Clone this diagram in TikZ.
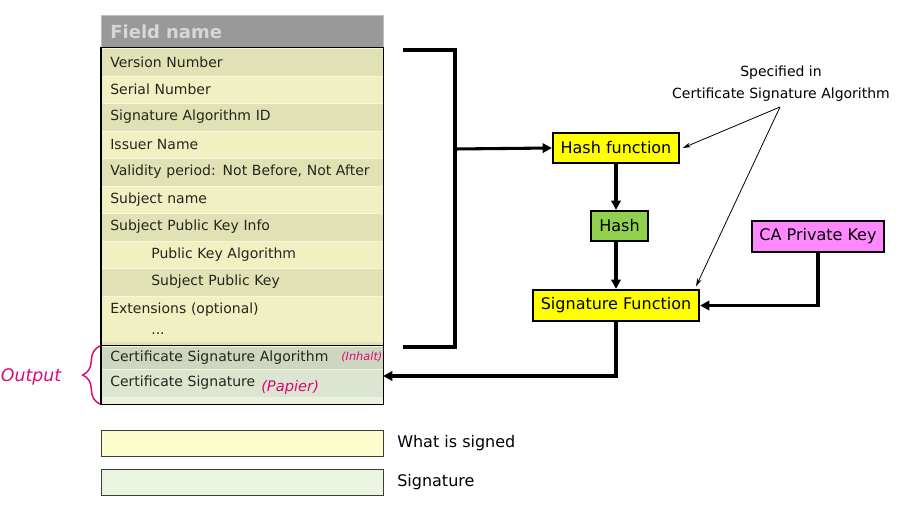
\documentclass[tikz,border=0pt]{standalone}
\usepackage{fontspec}
\setmainfont{DejaVu Sans}
\usetikzlibrary{arrows.meta,decorations.pathreplacing,calc}
\definecolor{rowD}{RGB}{224,225,180}
\definecolor{rowL}{RGB}{240,240,195}
\definecolor{rowLine}{RGB}{246,246,220}
\definecolor{sgA}{RGB}{205,215,192}
\definecolor{sgB}{RGB}{220,229,207}
\definecolor{sgC}{RGB}{234,242,222}
\definecolor{hdrFill}{RGB}{153,153,153}
\definecolor{hdrLine}{RGB}{190,190,190}
\definecolor{hdrText}{RGB}{215,215,215}
\definecolor{txt}{RGB}{38,38,28}
\definecolor{boxY}{RGB}{255,255,0}
\definecolor{boxG}{RGB}{146,208,80}
\definecolor{boxM}{RGB}{255,136,255}
\definecolor{legY}{RGB}{252,252,205}
\definecolor{legG}{RGB}{235,244,223}
\definecolor{hand}{RGB}{215,10,120}
\begin{document}
\begin{tikzpicture}[x=0.75pt,y=-0.75pt,
  row/.style={anchor=west, minimum width=211.5pt, text width=198pt, inner xsep=6.75pt, inner ysep=0pt,
    align=left, draw=rowLine, line width=0.5pt, font=\fontsize{10.5}{12}\selectfont, text=txt},
  fbox/.style={draw=black, line width=1.6pt, inner sep=0pt, font=\fontsize{12}{14}\selectfont},
  thickarrow/.style={line width=2.3pt, -{Triangle[length=7pt,width=7pt]}},
  thinarrow/.style={line width=0.6pt, -{Stealth[length=6pt,width=3.5pt]}},
  handtxt/.style={text=hand, inner sep=0pt},
  legbox/.style={draw={rgb,255:red,60;green,60;blue,60}, line width=0.8pt, minimum width=211.5pt, minimum height=19.5pt, inner sep=0pt},
  legtxt/.style={anchor=west, inner sep=0pt, font=\fontsize{12}{14}\selectfont}]
\useasboundingbox (0,0) rectangle (908,509);

% header
\node[row, fill=hdrFill, draw=hdrLine, minimum height=24.75pt, text=hdrText,
  font=\bfseries\fontsize{13.5}{15}\selectfont] (hdr) at (101,31.5) {Field name};

% rows
\node[row, fill=rowD, minimum height=21pt]    (r1)  at (101,62)    {Version Number};
\node[row, fill=rowL, minimum height=20.25pt] (r2)  at (101,89.5)  {Serial Number};
\node[row, fill=rowD, minimum height=21pt]    (r3)  at (101,117)   {Signature Algorithm ID};
\node[row, fill=rowL, minimum height=20.25pt] (r4)  at (101,144.5) {Issuer Name};
\node[row, fill=rowD, minimum height=21pt]    (r5)  at (101,172)   {Validity period: Not Before, Not After};
\node[row, fill=rowL, minimum height=20.25pt] (r6)  at (101,199.5) {Subject name};
\node[row, fill=rowD, minimum height=21pt]    (r7)  at (101,227)   {Subject Public Key Info};
\node[row, fill=rowL, minimum height=20.25pt] (r8)  at (101,254.5) {\hspace*{30.75pt}Public Key Algorithm};
\node[row, fill=rowD, minimum height=21pt]    (r9)  at (101,282)   {\hspace*{30.75pt}Subject Public Key};
\node[row, fill=rowL, minimum height=34.5pt]  (r10) at (101,319)   {Extensions (optional)\\[3.75pt]\hspace*{30.75pt}...};
\node[row, fill=rowD, minimum height=3pt, draw=none] (r10b) at (101,344) {};
\node[row, fill=sgA, minimum height=17.25pt]  (r11) at (101,357.5) {Certificate Signature Algorithm};
\node[row, fill=sgB, minimum height=21pt]     (r12) at (101,383)   {Certificate Signature};
\node[row, fill=sgC, minimum height=5.25pt, draw=none] (r13) at (101,400.5) {};
\draw[line width=1pt] (r1.north west) rectangle (r13.south east);
\draw[line width=1pt] (r11.north west) -- (r11.north east);

% bracket
\coordinate (bt) at (403,50);
\coordinate (bb) at (403,347);
\coordinate (bm) at (455,149);
\draw[line width=2.3pt] (bt) -- (455,50) -- (455,347) -- (bb);

% boxes
\node[fbox, fill=boxY, minimum width=94.5pt, minimum height=22.5pt] (hf) at (616,148) {Hash function};
\node[fbox, fill=boxG, minimum width=42.75pt, minimum height=22.5pt] (hs) at (619.5,226) {Hash};
\node[fbox, fill=boxM, minimum width=99pt, minimum height=23.25pt] (ca) at (818,236.5) {CA Private Key};
\node[fbox, fill=boxY, minimum width=124.5pt, minimum height=23.25pt] (sf) at (616,305.5) {Signature Function};

\draw[thickarrow] (bm) -- (hf.west);
\draw[thickarrow] (hf.south) -- (hf.south |- hs.north);
\draw[thickarrow] (hf.south |- hs.south) -- (sf.north);
\draw[thickarrow] (ca.south) |- (sf.east);
\coordinate (outin) at (383,376);
\draw[thickarrow] (sf.south) |- (outin);

% specified in
\node[align=center, inner sep=0pt, font=\fontsize{10.5}{16.5}\selectfont] (spec) at (781,83.5) {Specified in\\Certificate Signature Algorithm};
\coordinate (sp) at (780,107);
\draw[thinarrow] (sp) -- ([xshift=2pt]hf.east);
\draw[thinarrow] (sp) -- ([xshift=-3pt,yshift=2pt]sf.north east);

% handwritten annotations
\node[handtxt, font=\itshape\fontsize{13}{13}\selectfont] (outp) at (31,377) {Output};
\node[handtxt, anchor=west, font=\itshape\fontsize{8.5}{9}\selectfont] (inh) at (341,357) {(Inhalt)};
\node[handtxt, anchor=west, font=\itshape\fontsize{11}{11}\selectfont] (pap) at (261,387) {(Papier)};
\draw[hand, line width=1.1pt, decorate, decoration={brace, amplitude=13pt}] (100,404) -- (100,346);

% legend
\node[legbox, fill=legY, anchor=north west] (ly) at (101,430) {};
\node[legbox, fill=legG, anchor=north west] (lg) at (101,469) {};
\node[legtxt] (lyt) at (397,443) {What is signed};
\node[legtxt] (lgt) at (397,482) {Signature};
\end{tikzpicture}
\end{document}
